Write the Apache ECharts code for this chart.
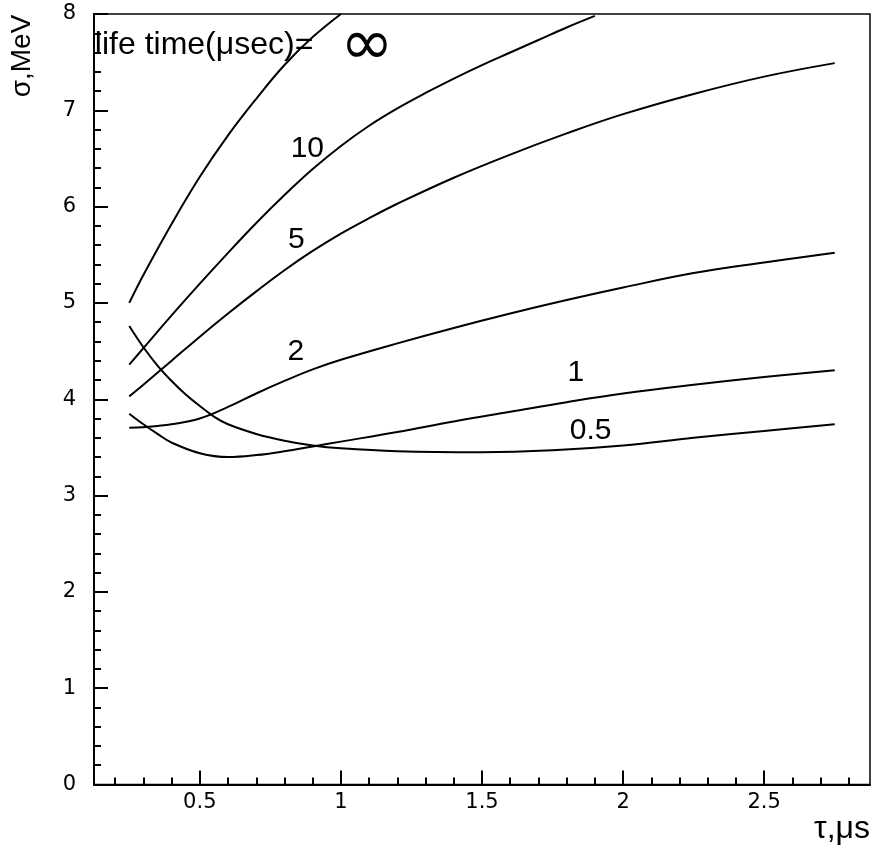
<!DOCTYPE html>
<html>
<head>
<meta charset="utf-8">
<script src="https://cdn.jsdelivr.net/npm/echarts@6/dist/echarts.min.js"></script>
<style>
  html, body { margin: 0; padding: 0; background: #fff; }
  #chart { width: 876px; height: 851px; }
</style>
</head>
<body>
<div id="chart"></div>
<script>
// Energy resolution sigma (MeV) versus shaping time tau (us), one curve per carrier life time.
const tauInf    = [0.25, 0.3, 0.4, 0.5, 0.6, 0.7, 0.8, 0.9, 1.0];
const sigmaInf  = [5.00, 5.29, 5.82, 6.31, 6.74, 7.12, 7.47, 7.76, 8.00];

const tau10     = [0.25, 0.3, 0.4, 0.5, 0.6, 0.7, 0.8, 0.9, 1.0, 1.1, 1.2, 1.3, 1.4, 1.5, 1.6, 1.7, 1.8, 1.9];
const sigma10   = [4.36, 4.53, 4.87, 5.20, 5.52, 5.83, 6.12, 6.39, 6.63, 6.84, 7.02, 7.18, 7.33, 7.47, 7.60, 7.73, 7.86, 7.98];

const tau5      = [0.25, 0.3, 0.4, 0.5, 0.6, 0.7, 0.8, 0.9, 1.0, 1.1, 1.2, 1.4, 1.6, 1.8, 2.0, 2.25, 2.5, 2.75];
const sigma5    = [4.03, 4.15, 4.40, 4.65, 4.89, 5.12, 5.34, 5.54, 5.72, 5.88, 6.03, 6.30, 6.54, 6.76, 6.96, 7.17, 7.35, 7.49];

const tau2      = [0.25, 0.3, 0.4, 0.5, 0.6, 0.7, 0.8, 0.9, 1.0, 1.2, 1.4, 1.6, 1.8, 2.0, 2.25, 2.5, 2.75];
const sigma2    = [3.705, 3.71, 3.74, 3.80, 3.92, 4.06, 4.19, 4.31, 4.41, 4.58, 4.74, 4.89, 5.03, 5.16, 5.31, 5.42, 5.52];

const tau1      = [0.25, 0.3, 0.35, 0.4, 0.5, 0.6, 0.7, 0.8, 0.9, 1.0, 1.2, 1.4, 1.6, 1.8, 2.0, 2.25, 2.5, 2.75];
const sigma1    = [3.85, 3.74, 3.64, 3.55, 3.44, 3.40, 3.42, 3.46, 3.51, 3.56, 3.66, 3.77, 3.87, 3.97, 4.06, 4.15, 4.23, 4.30];

const tau05     = [0.25, 0.3, 0.35, 0.4, 0.45, 0.5, 0.55, 0.6, 0.7, 0.8, 0.9, 1.0, 1.2, 1.5, 1.75, 2.0, 2.25, 2.5, 2.75];
const sigma05   = [4.76, 4.54, 4.35, 4.19, 4.05, 3.93, 3.82, 3.74, 3.64, 3.57, 3.52, 3.49, 3.46, 3.45, 3.47, 3.52, 3.60, 3.67, 3.74];

const curveNames = ['∞', '10', '5', '2', '1', '0.5'];
const xMajorTicks = [0.5, 1, 1.5, 2, 2.5];
const yRange = [0, 8];
const xRange = [0.125, 2.875];

const FONT = 'Liberation Sans, Arial, Helvetica, sans-serif';
const TICK_FONT = 'DejaVu Sans, sans-serif';

// minor x ticks every 0.1 between the major ones
const xMinorTicks = [];
for (let i = 2; i <= 28; i++) {
  if (i % 5 !== 0) xMinorTicks.push(Math.round(i * 10) / 100);
}

const zip = (xs, ys) => xs.map((x, i) => [x, ys[i]]);
const curves = [
  zip(tauInf, sigmaInf),
  zip(tau10, sigma10),
  zip(tau5, sigma5),
  zip(tau2, sigma2),
  zip(tau1, sigma1),
  zip(tau05, sigma05)
];

const chart = echarts.init(document.getElementById('chart'), null, { renderer: 'canvas' });

const axisLineStyle = { color: '#000', width: 2 };

const option = {
  animation: false,
  backgroundColor: '#fff',
  grid: {
    left: 94, right: 6, top: 14, bottom: 66.5,
    show: true, borderColor: '#000', borderWidth: 1.5, backgroundColor: 'transparent'
  },
  xAxis: [
    {
      type: 'value', min: xRange[0], max: xRange[1],
      axisLine: { onZero: false, lineStyle: axisLineStyle },
      axisTick: { inside: true, length: 14, customValues: xMajorTicks, lineStyle: axisLineStyle },
      axisLabel: {
        customValues: xMajorTicks, margin: 8, fontSize: 21, color: '#000', fontFamily: TICK_FONT,
        formatter: v => String(v)
      },
      splitLine: { show: false }
    },
    {
      type: 'value', min: xRange[0], max: xRange[1], position: 'bottom',
      axisLine: { show: false },
      axisTick: { inside: true, length: 7, customValues: xMinorTicks, lineStyle: axisLineStyle },
      axisLabel: { show: false },
      splitLine: { show: false }
    }
  ],
  yAxis: {
    type: 'value', min: yRange[0], max: yRange[1], interval: 1,
    axisLine: { onZero: false, lineStyle: axisLineStyle },
    axisTick: { inside: true, length: 14, lineStyle: axisLineStyle },
    minorTick: { show: true, splitNumber: 5, length: 7, lineStyle: axisLineStyle },
    axisLabel: { margin: 18, fontSize: 21, color: '#000', fontFamily: TICK_FONT },
    splitLine: { show: false },
    minorSplitLine: { show: false }
  },
  series: curves.map((d, i) => ({
    name: curveNames[i],
    type: 'line',
    xAxisIndex: 0,
    yAxisIndex: 0,
    data: d,
    showSymbol: false,
    smooth: 0.4,
    clip: true,
    lineStyle: { color: '#000', width: 2 },
    z: 3
  }))
};

chart.setOption(option);

// annotations anchored in data coordinates
const px = (x, y) => chart.convertToPixel({ xAxisIndex: 0, yAxisIndex: 0 }, [x, y]);
const curveLabelAt = [
  [1, 0.881, 6.60],
  [2, 0.842, 5.66],
  [3, 0.840, 4.49],
  [4, 1.833, 4.28],
  [5, 1.885, 3.67]
];
const labelStyle = { fill: '#000', fontFamily: FONT, fontSize: 30, align: 'center', verticalAlign: 'middle' };
const graphics = curveLabelAt.map(([idx, x, y]) => {
  const p = px(x, y);
  return { type: 'text', x: p[0], y: p[1], z: 10, style: Object.assign({ text: curveNames[idx] }, labelStyle) };
});

const titlePos = px(0.128, 7.68);
graphics.push({
  type: 'text', x: titlePos[0], y: titlePos[1], z: 10,
  style: { text: 'life time(μsec)=', fill: '#000', fontFamily: FONT, fontSize: 32, align: 'left', verticalAlign: 'middle' }
});
const infPos = px(1.092, 7.65);
graphics.push({
  type: 'text', x: infPos[0], y: infPos[1], z: 10,
  style: { text: curveNames[0], fill: '#000', fontFamily: 'DejaVu Sans, sans-serif', fontSize: 64, align: 'center', verticalAlign: 'middle' }
});

// axis titles
graphics.push({
  type: 'text', x: 22, y: 56, rotation: Math.PI / 2, z: 10,
  style: { text: 'σ,MeV', fill: '#000', fontFamily: FONT, fontSize: 28, align: 'center', verticalAlign: 'middle' }
});
graphics.push({
  type: 'text', x: 870, y: 829, z: 10,
  style: { text: 'τ,μs', fill: '#000', fontFamily: FONT, fontSize: 32, align: 'right', verticalAlign: 'middle' }
});

chart.setOption({ graphic: graphics });
</script>
</body>
</html>
